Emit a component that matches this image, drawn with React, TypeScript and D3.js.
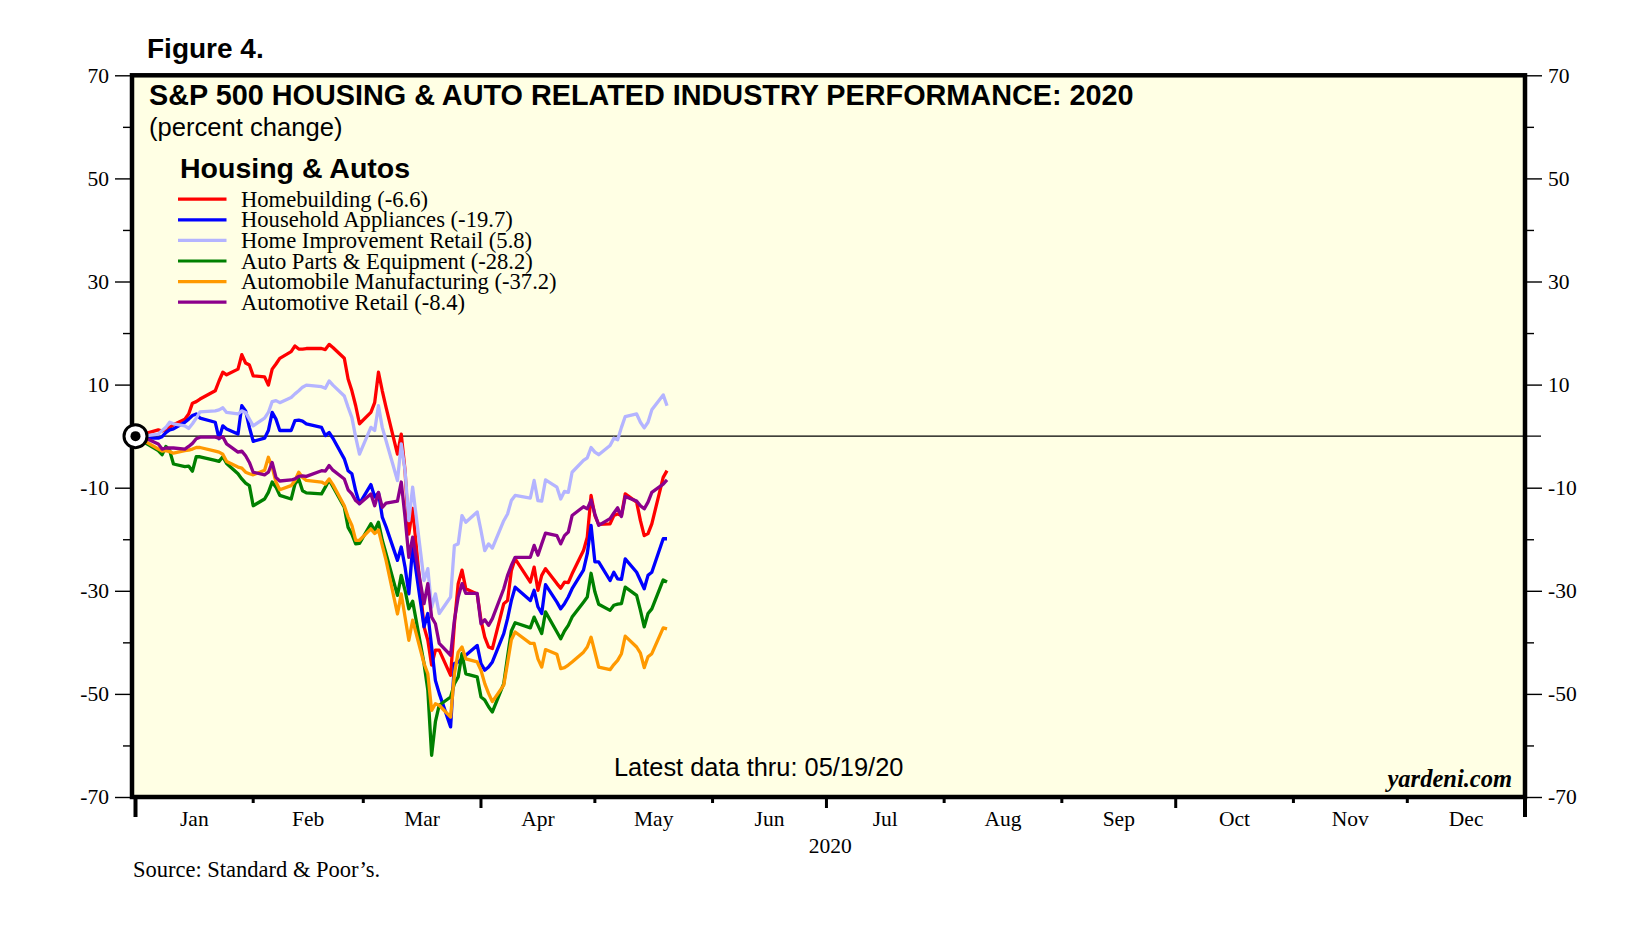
import { useEffect, useRef } from 'react';
import * as d3 from 'd3';

// trading days, Dec 31 2019 = base (0)
const tradingDays = [
  '2019-12-31',
  '2020-01-02', '2020-01-03', '2020-01-06', '2020-01-07', '2020-01-08', '2020-01-09', '2020-01-10',
  '2020-01-13', '2020-01-14', '2020-01-15', '2020-01-16', '2020-01-17', '2020-01-21', '2020-01-22',
  '2020-01-23', '2020-01-24', '2020-01-27', '2020-01-28', '2020-01-29', '2020-01-30', '2020-01-31',
  '2020-02-03', '2020-02-04', '2020-02-05', '2020-02-06', '2020-02-07', '2020-02-10', '2020-02-11',
  '2020-02-12', '2020-02-13', '2020-02-14', '2020-02-18', '2020-02-19', '2020-02-20', '2020-02-21',
  '2020-02-24', '2020-02-25', '2020-02-26', '2020-02-27', '2020-02-28',
  '2020-03-02', '2020-03-03', '2020-03-04', '2020-03-05', '2020-03-06', '2020-03-09', '2020-03-10',
  '2020-03-11', '2020-03-12', '2020-03-13', '2020-03-16', '2020-03-17', '2020-03-18', '2020-03-19',
  '2020-03-20', '2020-03-23', '2020-03-24', '2020-03-25', '2020-03-26', '2020-03-27', '2020-03-30',
  '2020-03-31',
  '2020-04-01', '2020-04-02', '2020-04-03', '2020-04-06', '2020-04-07', '2020-04-08', '2020-04-09',
  '2020-04-13', '2020-04-14', '2020-04-15', '2020-04-16', '2020-04-17', '2020-04-20', '2020-04-21',
  '2020-04-22', '2020-04-23', '2020-04-24', '2020-04-27', '2020-04-28', '2020-04-29', '2020-04-30',
  '2020-05-01', '2020-05-04', '2020-05-05', '2020-05-06', '2020-05-07', '2020-05-08', '2020-05-11',
  '2020-05-12', '2020-05-13', '2020-05-14', '2020-05-15', '2020-05-18', '2020-05-19',
];

const homebuilding = [
  0, 0.5, 0.6, 1.2, 1.0, 1.3, 1.7, 2.2, 3.3, 4.3, 6.4, 6.7, 7.2, 8.8, 10.7, 12.4, 11.9, 13.0, 15.8, 14.2, 13.8, 11.7,
  11.5, 9.9, 13.0, 14.0, 15.1, 16.4, 17.5, 16.9, 16.9, 17.0, 17.0, 16.8, 17.8, 17.2, 15.1, 11.1, 8.8, 5.9, 2.4,
  4.6, 6.5, 12.4, 8.8, 5.6, -3.5, 0.4, -6.7, -19.0, -14.0, -37.0, -39.6, -44.4, -41.5, -41.5, -46.4, -36.4, -28.6, -26.0, -29.6, -30.6, -35.7,
  -39.0, -40.9, -41.2, -32.5, -31.9, -26.1, -23.8, -28.3, -25.4, -29.9, -27.0, -25.7, -28.6, -29.5, -28.3, -28.4, -26.7, -22.2, -19.6, -11.5, -15.4,
  -17.1, -17.0, -15.4, -15.1, -15.4, -11.2, -12.8, -16.4, -19.3, -18.9, -17.0, -8.0, -6.7,
];

const householdAppliances = [
  0, -0.3, -0.4, -0.4, -0.1, 0.7, 1.2, 1.4, 2.7, 3.3, 4.0, 4.3, 3.5, 2.7, -0.5, 2.0, 1.4, 0.4, 5.9, 4.9, 1.7, -1.0,
  -0.4, 1.1, 4.6, 3.3, 1.1, 1.1, 3.0, 3.1, 2.9, 2.4, 1.7, 0.1, 0.7, -0.4, -4.4, -6.7, -7.3, -10.6, -13.1,
  -9.4, -11.8, -11.0, -15.7, -17.6, -24.1, -21.5, -25.4, -30.6, -21.5, -37.0, -34.4, -40.9, -47.4, -49.9, -56.4, -44.1, -43.8, -43.2, -42.5, -40.6, -44.1,
  -45.4, -44.8, -43.8, -38.3, -35.4, -31.9, -29.3, -31.9, -29.9, -33.1, -34.4, -28.8, -32.2, -33.5, -32.5, -31.2, -29.6, -26.0, -22.8, -17.3, -24.4,
  -24.4, -28.0, -26.4, -27.7, -27.8, -23.8, -26.4, -28.0, -29.6, -27.0, -26.4, -19.9, -19.9,
];

const homeImprovement = [
  0, -0.1, 0.1, 0.4, 1.1, 1.7, 2.7, 2.4, 2.0, 1.5, 2.4, 3.5, 4.7, 4.9, 5.1, 5.5, 4.6, 4.3, 4.9, 4.6, 3.3, 2.0,
  3.5, 4.6, 6.7, 6.9, 6.5, 7.5, 8.2, 8.8, 9.5, 9.9, 9.6, 9.3, 10.7, 9.9, 7.8, 5.6, 3.6, -0.2, -3.5,
  1.7, 1.1, 5.9, 1.7, -0.9, -8.6, -1.5, -6.7, -16.4, -9.9, -28.0, -25.7, -33.2, -30.6, -34.4, -31.2, -21.2, -20.9, -15.4, -16.7, -14.7, -18.3,
  -22.2, -20.9, -21.7, -16.4, -15.1, -12.5, -11.5, -12.0, -8.6, -12.5, -12.6, -8.5, -9.9, -12.2, -10.7, -10.9, -7.0, -4.7, -4.2, -2.2, -3.1,
  -3.6, -1.8, -0.4, -0.7, 1.7, 3.8, 4.3, 2.7, 1.6, 2.7, 5.1, 8.0, 5.9,
];

const autoParts = [
  0, -1.0, -1.5, -2.8, -3.6, -2.0, -2.8, -5.4, -5.9, -5.8, -6.8, -4.0, -4.0, -4.7, -4.9, -4.0, -5.3, -7.3, -8.3, -9.1, -9.6, -13.5,
  -12.2, -10.9, -8.9, -9.9, -11.5, -12.2, -9.3, -8.3, -10.6, -11.0, -11.2, -9.9, -8.5, -9.8, -13.8, -17.7, -19.0, -20.9, -20.8,
  -17.0, -18.3, -16.7, -20.2, -22.8, -30.9, -27.0, -29.9, -33.5, -32.0, -44.1, -49.3, -61.9, -55.4, -52.2, -50.6, -48.0, -46.7, -42.2, -46.1, -46.7, -50.6,
  -51.2, -52.5, -53.5, -48.0, -42.8, -37.8, -36.2, -37.2, -35.1, -36.7, -38.3, -34.1, -38.0, -39.3, -37.8, -36.7, -35.1, -32.2, -31.2, -26.6, -30.2,
  -32.6, -33.8, -32.8, -32.6, -32.5, -29.3, -30.9, -33.8, -37.0, -34.4, -33.5, -27.9, -28.3,
];

const autoManufacturing = [
  0, -0.9, -1.2, -2.5, -2.9, -2.8, -3.0, -3.3, -2.8, -2.7, -2.5, -2.2, -2.2, -2.9, -3.1, -3.5, -4.9, -6.0, -6.2, -7.0, -7.3, -7.5,
  -6.6, -4.1, -6.0, -8.9, -10.4, -9.6, -8.6, -7.0, -8.0, -8.6, -8.9, -9.3, -8.3, -9.4, -13.5, -15.7, -17.3, -20.2, -20.2,
  -18.0, -18.9, -18.2, -21.2, -24.1, -34.5, -30.6, -35.1, -39.6, -35.7, -44.1, -46.1, -53.2, -51.9, -52.2, -54.5, -46.1, -41.9, -40.9, -43.2, -43.8, -45.4,
  -48.0, -49.9, -51.5, -48.3, -44.0, -39.5, -38.0, -40.2, -40.2, -43.2, -44.8, -41.4, -42.3, -45.1, -44.9, -44.4, -43.8, -41.9, -40.9, -39.0, -41.9,
  -44.8, -45.3, -44.3, -43.5, -42.2, -38.8, -40.9, -42.1, -44.9, -42.8, -42.2, -37.2, -37.4,
];

const automotiveRetail = [
  0, -0.2, -0.5, -1.5, -2.5, -2.3, -2.3, -2.3, -2.5, -2.0, -1.4, -0.5, -0.2, -0.2, -0.4, -0.1, -1.5, -3.1, -2.9, -3.8, -5.1, -7.0,
  -7.5, -7.0, -5.1, -8.0, -8.7, -8.5, -8.3, -7.8, -7.7, -7.8, -6.7, -6.8, -5.7, -6.6, -8.3, -10.4, -11.2, -12.5, -13.1,
  -11.2, -13.5, -10.9, -13.8, -13.0, -12.6, -8.9, -15.7, -23.5, -19.6, -32.5, -28.6, -35.1, -36.4, -40.2, -42.5, -35.7, -31.2, -28.6, -30.5, -30.5, -36.4,
  -35.6, -36.7, -35.4, -29.6, -27.0, -25.1, -23.5, -23.5, -21.2, -23.1, -20.9, -18.8, -19.3, -20.9, -19.3, -18.6, -15.4, -13.7, -14.1, -12.4, -15.1,
  -17.3, -16.0, -14.9, -13.9, -15.6, -11.7, -12.6, -13.5, -14.1, -12.8, -10.9, -9.3, -8.5,
];

const seriesLabels = [
  'Homebuilding (-6.6)',
  'Household Appliances (-19.7)',
  'Home Improvement Retail (5.8)',
  'Auto Parts & Equipment (-28.2)',
  'Automobile Manufacturing (-37.2)',
  'Automotive Retail (-8.4)',
];
const seriesColors = ['#ff0000', '#0000ff', '#b4b4ff', '#008000', '#ff9900', '#8c008c'];
const seriesValues = [homebuilding, householdAppliances, homeImprovement, autoParts, autoManufacturing, automotiveRetail];

const yMajorTicks = [-70, -50, -30, -10, 10, 30, 50, 70];
const yMinorTicks = [-60, -40, -20, 20, 40, 60];
const monthLabels = ['Jan', 'Feb', 'Mar', 'Apr', 'May', 'Jun', 'Jul', 'Aug', 'Sep', 'Oct', 'Nov', 'Dec'];

const SERIF = "'Liberation Serif', 'Times New Roman', serif";
const SANS = "'Liberation Sans', Arial, sans-serif";

const App = () => {
  const svgRef = useRef<SVGSVGElement | null>(null);

  useEffect(() => {
    const svg = d3.select(svgRef.current);
    svg.selectAll('*').remove();

    const width = 1641;
    const height = 936;
    // frame of the plot area
    const frame = { left: 132, top: 75.3, right: 1525, bottom: 797 };

    svg.attr('width', width).attr('height', height);
    svg.append('rect').attr('width', width).attr('height', height).attr('fill', '#ffffff');

    const start = new Date(2020, 0, 1);
    const end = new Date(2021, 0, 1);
    const x = d3.scaleTime().domain([start, end]).range([135.5, frame.right]);
    const y = d3.scaleLinear().domain([-70, 70]).range([frame.bottom, frame.top]);

    const parse = d3.timeParse('%Y-%m-%d');
    const dates = tradingDays.map(d => parse(d)!);

    // plot background
    svg.append('rect')
      .attr('x', frame.left).attr('y', frame.top)
      .attr('width', frame.right - frame.left).attr('height', frame.bottom - frame.top)
      .attr('fill', '#ffffe4');

    // zero line
    svg.append('line')
      .attr('x1', x(start)).attr('x2', frame.right + 16)
      .attr('y1', y(0)).attr('y2', y(0))
      .attr('stroke', '#000').attr('stroke-width', 1.4);

    // series lines, each value plotted at the close of its day
    const line = d3.line<number>()
      .x((_, i) => x(d3.timeDay.offset(dates[i], 1)))
      .y(v => y(v));

    seriesValues.forEach((vals, i) => {
      svg.append('path')
        .datum(vals)
        .attr('d', line)
        .attr('fill', 'none')
        .attr('stroke', seriesColors[i])
        .attr('stroke-width', 3.3)
        .attr('stroke-linejoin', 'round');
    });

    // frame border
    svg.append('rect')
      .attr('x', frame.left).attr('y', frame.top)
      .attr('width', frame.right - frame.left).attr('height', frame.bottom - frame.top)
      .attr('fill', 'none').attr('stroke', '#000').attr('stroke-width', 4.5);

    // start marker
    svg.append('circle')
      .attr('cx', x(start)).attr('cy', y(0)).attr('r', 11.5)
      .attr('fill', '#fff').attr('stroke', '#000').attr('stroke-width', 3);
    svg.append('circle')
      .attr('cx', x(start)).attr('cy', y(0)).attr('r', 5)
      .attr('fill', '#000');

    // y axes
    const styleAxis = (g: d3.Selection<SVGGElement, unknown, null, undefined>) => {
      g.select('.domain').remove();
      g.selectAll('line').attr('stroke', '#000').attr('stroke-width', 1.4);
      g.selectAll('text').attr('font-family', SERIF).attr('font-size', 21.5).attr('fill', '#000');
    };
    const plainNumber = (d: d3.NumberValue) => String(d);

    svg.append('g')
      .attr('transform', `translate(${frame.left - 2},0)`)
      .call(d3.axisLeft(y).tickValues(yMajorTicks).tickSize(15).tickPadding(6).tickFormat(plainNumber))
      .call(styleAxis);
    svg.append('g')
      .attr('transform', `translate(${frame.left - 2},0)`)
      .call(d3.axisLeft(y).tickValues(yMinorTicks).tickSize(7).tickFormat(() => ''))
      .call(styleAxis);
    svg.append('g')
      .attr('transform', `translate(${frame.right + 2},0)`)
      .call(d3.axisRight(y).tickValues(yMajorTicks).tickSize(15).tickPadding(6).tickFormat(plainNumber))
      .call(styleAxis);
    svg.append('g')
      .attr('transform', `translate(${frame.right + 2},0)`)
      .call(d3.axisRight(y).tickValues(yMinorTicks).tickSize(7).tickFormat(() => ''))
      .call(styleAxis);

    // x axis: year stubs, quarter and month ticks
    [start, end].forEach(d => {
      svg.append('rect')
        .attr('x', x(d) - 2).attr('y', frame.bottom)
        .attr('width', 4).attr('height', 20)
        .attr('fill', '#000');
    });
    const months = d3.timeMonth.range(start, end);
    months.slice(1).forEach(m => {
      const quarter = m.getMonth() % 3 === 0;
      svg.append('rect')
        .attr('x', x(m) - 1.5).attr('y', frame.bottom)
        .attr('width', 3).attr('height', quarter ? 11 : 6)
        .attr('fill', '#000');
    });
    months.forEach((m, i) => {
      const next = d3.timeMonth.offset(m, 1);
      svg.append('text')
        .attr('x', (x(m) + x(next)) / 2).attr('y', 826)
        .attr('text-anchor', 'middle')
        .attr('font-family', SERIF).attr('font-size', 21.5)
        .text(monthLabels[i]);
    });
    svg.append('text')
      .attr('x', (x(start) + x(end)) / 2).attr('y', 853)
      .attr('text-anchor', 'middle')
      .attr('font-family', SERIF).attr('font-size', 21.5)
      .text('2020');

    // titles
    svg.append('text')
      .attr('x', 147).attr('y', 58)
      .attr('font-family', SANS).attr('font-weight', 'bold').attr('font-size', 28)
      .text('Figure 4.');
    svg.append('text')
      .attr('x', 149).attr('y', 105)
      .attr('font-family', SANS).attr('font-weight', 'bold').attr('font-size', 28.8)
      .text('S&P 500 HOUSING & AUTO RELATED INDUSTRY PERFORMANCE: 2020');
    svg.append('text')
      .attr('x', 149).attr('y', 135.5)
      .attr('font-family', SANS).attr('font-size', 25.6)
      .text('(percent change)');
    svg.append('text')
      .attr('x', 180).attr('y', 178)
      .attr('font-family', SANS).attr('font-weight', 'bold').attr('font-size', 28.5)
      .text('Housing & Autos');

    // legend
    seriesLabels.forEach((label, i) => {
      const ly = 199.2 + i * 20.6;
      svg.append('line')
        .attr('x1', 178).attr('x2', 226.5)
        .attr('y1', ly).attr('y2', ly)
        .attr('stroke', seriesColors[i]).attr('stroke-width', 3.2);
      svg.append('text')
        .attr('x', 241).attr('y', ly + 7.5)
        .attr('font-family', SERIF).attr('font-size', 22.6)
        .text(label);
    });

    svg.append('text')
      .attr('x', 614).attr('y', 776)
      .attr('font-family', SANS).attr('font-size', 25.4)
      .text('Latest data thru: 05/19/20');
    svg.append('text')
      .attr('x', 1512).attr('y', 787)
      .attr('text-anchor', 'end')
      .attr('font-family', SERIF).attr('font-weight', 'bold').attr('font-style', 'italic').attr('font-size', 24.5)
      .text('yardeni.com');
    svg.append('text')
      .attr('x', 133).attr('y', 877)
      .attr('font-family', SERIF).attr('font-size', 22.5)
      .text('Source: Standard & Poor\u2019s.');
  }, []);

  return <svg ref={svgRef} style={{ position: 'absolute', left: 0, top: 0, display: 'block' }}></svg>;
};

export default App;
